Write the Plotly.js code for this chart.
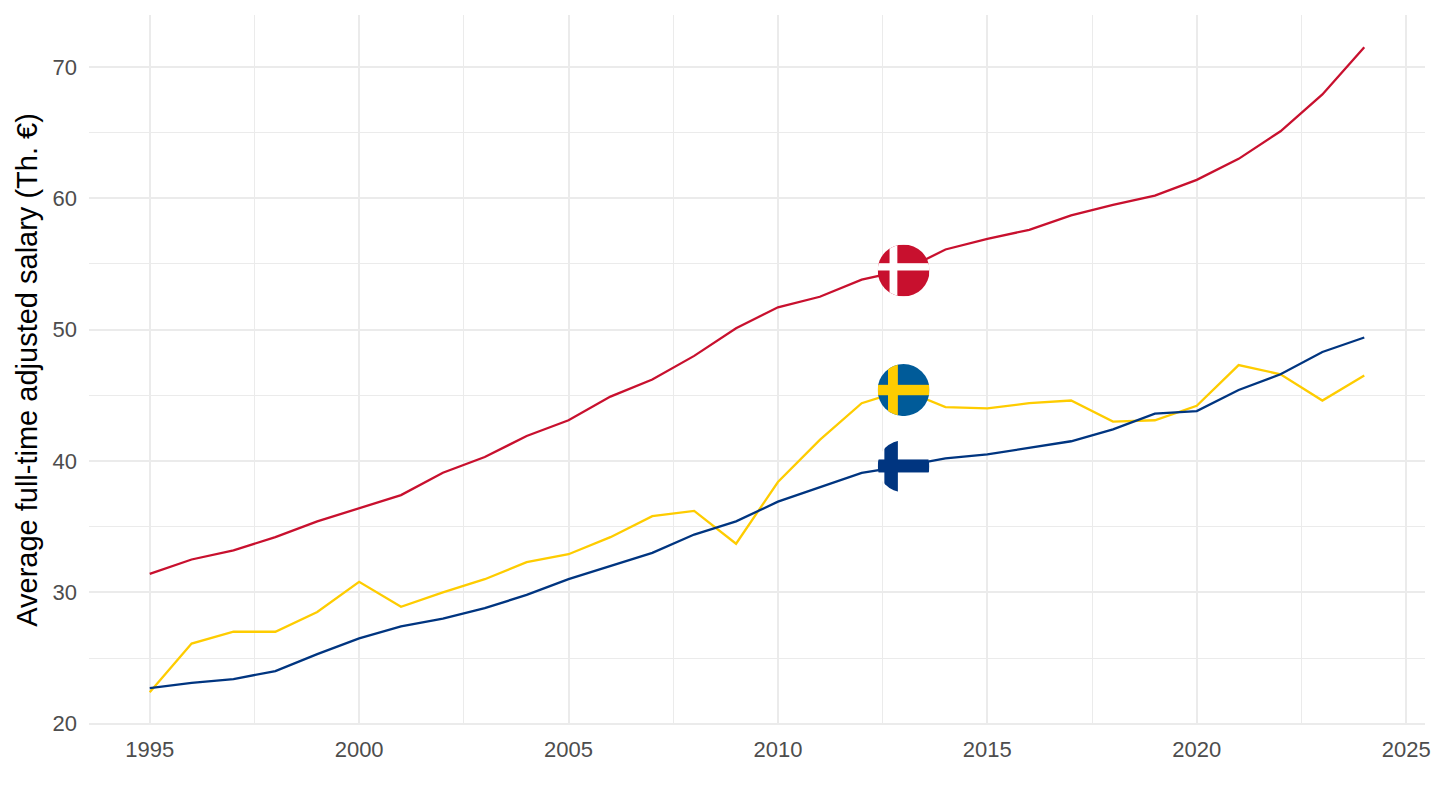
<!DOCTYPE html>
<html>
<head>
<meta charset="utf-8">
<script src="https://cdn.plot.ly/plotly-3.0.1.min.js"></script>
<style>
  html, body { margin: 0; padding: 0; background: #fff; }
  #chart { width: 1440px; height: 810px; }
</style>
</head>
<body>
<div id="chart"></div>
<script>
// years + average full-time adjusted salary, thousands of euros
const years = [1995,1996,1997,1998,1999,2000,2001,2002,2003,2004,2005,2006,2007,2008,2009,
               2010,2011,2012,2013,2014,2015,2016,2017,2018,2019,2020,2021,2022,2023,2024];

const denmark = [31.4,32.5,33.2,34.2,35.4,36.4,37.4,39.1,40.3,41.9,43.1,44.9,46.2,48.0,50.1,
                 51.7,52.5,53.8,54.5,56.1,56.9,57.6,58.7,59.5,60.2,61.4,63.0,65.1,67.9,71.5];
const sweden  = [22.4,26.1,27.0,27.0,28.5,30.8,28.9,30.0,31.0,32.3,32.9,34.2,35.8,36.2,33.7,
                 38.4,41.6,44.4,45.4,44.1,44.0,44.4,44.6,43.0,43.1,44.2,47.3,46.6,44.6,46.5];
const finland = [22.7,23.1,23.4,24.0,25.3,26.5,27.4,28.0,28.8,29.8,31.0,32.0,33.0,34.4,35.4,
                 36.9,38.0,39.1,39.6,40.2,40.5,41.0,41.5,42.4,43.6,43.8,45.4,46.6,48.3,49.4];

const xTicks = [1995, 2000, 2005, 2010, 2015, 2020, 2025];
const yTicks = [20, 30, 40, 50, 60, 70];

const flagYear = 2013;

const colors = { dk: '#C8102E', se: '#FECC00', fi: '#003580' };

// round flags as small svgs
function roundFlag(bg, cross, vx, vw, hy, hh) {
  const svg = '<svg xmlns="http://www.w3.org/2000/svg" viewBox="0 0 100 100">' +
    '<defs><clipPath id="c"><circle cx="50" cy="50" r="50"/></clipPath></defs>' +
    '<g clip-path="url(#c)">' +
    '<rect width="100" height="100" fill="' + bg + '"/>' +
    '<rect x="' + vx + '" y="0" width="' + vw + '" height="100" fill="' + cross + '"/>' +
    '<rect x="0" y="' + hy + '" width="100" height="' + hh + '" fill="' + cross + '"/>' +
    '</g></svg>';
  return 'data:image/svg+xml;charset=utf-8,' + encodeURIComponent(svg);
}

const flagDK = roundFlag('#C8102E', '#ffffff', 23, 15, 36, 14);
const flagSE = roundFlag('#005B99', '#FECC00', 20, 19, 40, 20);
const flagFI = roundFlag('#ffffff', '#003580', 13, 26, 37, 25);

const idx = years.indexOf(flagYear);

function trace(y, color, name) {
  return {
    x: years, y: y, type: 'scatter', mode: 'lines', name: name,
    line: { color: color, width: 2.3 },
    hoverinfo: 'x+y+name'
  };
}

const data = [
  trace(denmark, colors.dk, 'Denmark'),
  trace(sweden, colors.se, 'Sweden'),
  trace(finland, colors.fi, 'Finland')
];

function flagImage(src, y) {
  return {
    source: src, xref: 'x', yref: 'y', x: flagYear, y: y,
    sizex: 1.24, sizey: 3.96, xanchor: 'center', yanchor: 'middle',
    sizing: 'stretch', layer: 'above'
  };
}

const layout = {
  width: 1440, height: 810,
  margin: { l: 89, r: 15, t: 15, b: 85 },
  paper_bgcolor: '#ffffff', plot_bgcolor: '#ffffff',
  showlegend: false,
  font: { family: 'Liberation Sans, Arial, sans-serif', color: '#4d4d4d' },
  xaxis: {
    range: [1993.55, 2025.45],
    tickvals: xTicks,
    ticks: '', showline: false, zeroline: false,
    showgrid: true, gridcolor: '#ebebeb', gridwidth: 2,
    minor: { tickvals: [1997.5, 2002.5, 2007.5, 2012.5, 2017.5, 2022.5], showgrid: true, gridcolor: '#ebebeb', gridwidth: 1 },
    tickfont: { size: 22, color: '#4d4d4d' },
    ticklabelstandoff: 9
  },
  yaxis: {
    range: [19.9, 73.95],
    tickvals: yTicks,
    ticks: '', showline: false, zeroline: false,
    showgrid: true, gridcolor: '#ebebeb', gridwidth: 2,
    minor: { tickvals: [25, 35, 45, 55, 65], showgrid: true, gridcolor: '#ebebeb', gridwidth: 1 },
    tickfont: { size: 22, color: '#4d4d4d' },
    ticklabelstandoff: 11,
    title: { text: 'Average full-time adjusted salary (Th. €)', font: { size: 29, color: '#000000' }, standoff: 6 }
  },
  images: [
    flagImage(flagDK, denmark[idx]),
    flagImage(flagSE, sweden[idx]),
    flagImage(flagFI, finland[idx])
  ]
};

Plotly.newPlot('chart', data, layout, { displayModeBar: false, staticPlot: true });
</script>
</body>
</html>
